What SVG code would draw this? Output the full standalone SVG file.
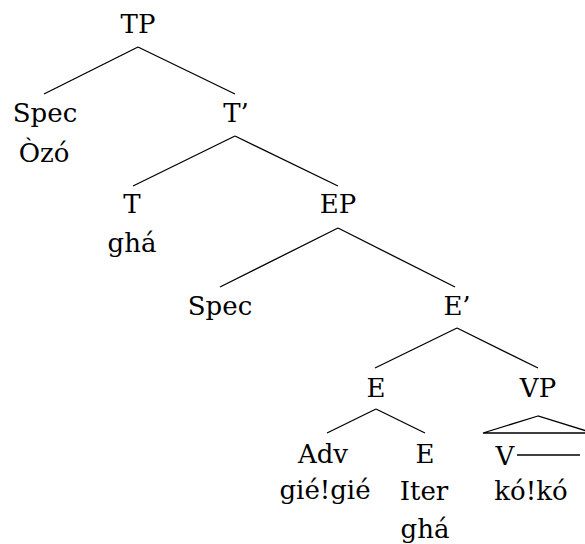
<svg xmlns="http://www.w3.org/2000/svg" width="585" height="544" viewBox="0 0 585 544">
<style>
.t text{font-family:"DejaVu Serif",serif;font-size:26px;text-anchor:middle;fill:#000}
.e{stroke:#000;stroke-width:1.3;fill:none}
</style>
<rect width="585" height="544" fill="#fff"/>
<g id="connectors">
<line class="e" x1="138" y1="47" x2="44" y2="94"/>
<line class="e" x1="138" y1="47" x2="235" y2="94"/>
<line class="e" x1="235" y1="136" x2="133" y2="186"/>
<line class="e" x1="235" y1="136" x2="338" y2="186"/>
<line class="e" x1="338" y1="228" x2="220" y2="287"/>
<line class="e" x1="338" y1="228" x2="455" y2="287"/>
<line class="e" x1="457" y1="328" x2="375" y2="368"/>
<line class="e" x1="457" y1="328" x2="538" y2="368"/>
<line class="e" x1="376" y1="409" x2="327" y2="433"/>
<line class="e" x1="376" y1="409" x2="425" y2="433"/>
<polygon class="e" points="538,416 483,433 593,433"/>
<line class="e" x1="517" y1="455" x2="580" y2="455"/>
</g>
<g class="t">
<g id="TP"><text x="138" y="33">TP</text></g>
<g id="Spec1"><text x="45" y="122">Spec</text><text x="44" y="162">Òzó</text></g>
<g id="Tbar"><text x="236" y="122">T’</text></g>
<g id="T"><text x="132" y="213">T</text><text x="132" y="252">ghá</text></g>
<g id="EP"><text x="338" y="213">EP</text></g>
<g id="Spec2"><text x="220" y="315">Spec</text></g>
<g id="Ebar"><text x="457" y="315">E’</text></g>
<g id="E1"><text x="376" y="397">E</text></g>
<g id="VP"><text x="538" y="397">VP</text></g>
<g id="Adv"><text x="323" y="463">Adv</text><text x="325" y="499">gié!gié</text></g>
<g id="E2"><text x="425" y="463">E</text><text x="424" y="500">Iter</text><text x="425" y="538">ghá</text></g>
<g id="V"><text x="505" y="465">V</text><text x="531" y="500">kó!kó</text></g>
</g>
</svg>
